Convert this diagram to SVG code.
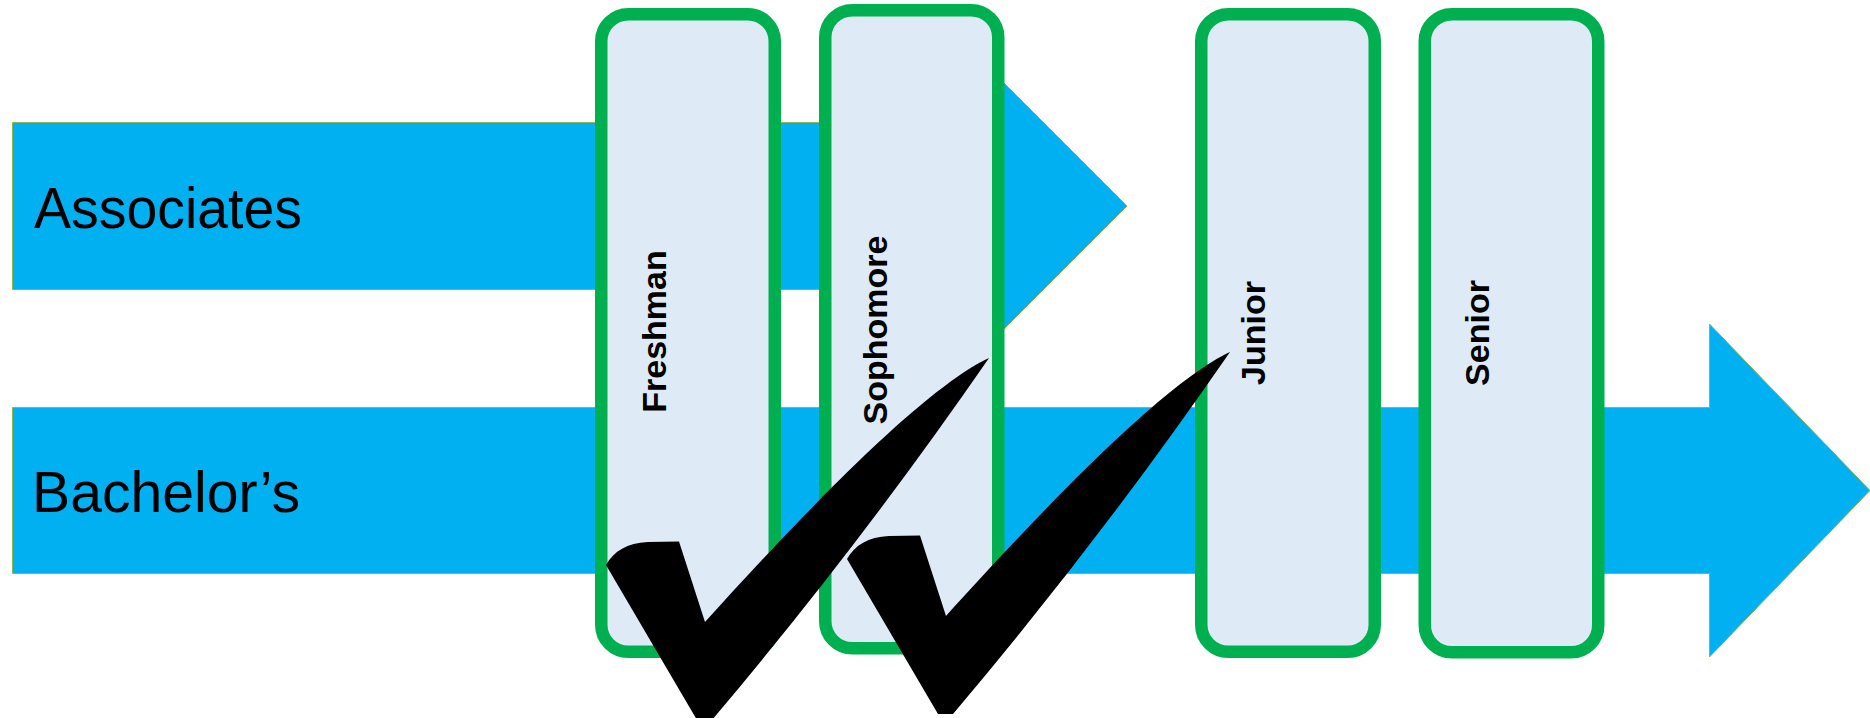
<svg xmlns="http://www.w3.org/2000/svg" width="1870" height="718" viewBox="0 0 1870 718">
  <style>
    .arrow { fill: #00B0F0; stroke: #8CB84E; stroke-width: 1; }
    .box { fill: #DEEAF6; stroke: #00B050; stroke-width: 12.5; }
    .lbl { font-family: "Liberation Sans", Arial, sans-serif; font-size: 58px; fill: #000; }
    .yr { font-family: "Liberation Sans", Arial, sans-serif; font-size: 34px; font-weight: bold; fill: #000; text-anchor: middle; }
    .check { fill: #000; }
  </style>
  <defs>
    <path id="tick" d="M606,565 C614,551 627,543 648,542 L679,541.5 L705,622 C790,528 920,390 989,358 Q860,545 712,720 L697,720 Z"/>
  </defs>
  <rect width="1870" height="718" fill="#FFFFFF"/>

  <g id="associates">
    <path class="arrow" d="M12.5,122.5 H960 V39 L1127,206 L960,373 V289.5 H12.5 Z"/>
    <text class="lbl" x="34" y="228" textLength="268" lengthAdjust="spacingAndGlyphs">Associates</text>
  </g>

  <g id="bachelors">
    <path class="arrow" d="M12.5,407.5 H1709.5 V324 L1870,490.5 L1709.5,657 V573.5 H12.5 Z"/>
    <text class="lbl" x="32" y="512" textLength="268" lengthAdjust="spacingAndGlyphs">Bachelor’s</text>
  </g>

  <g id="connectors"></g>

  <g id="freshman">
    <rect class="box" x="601.25" y="14.25" width="173.5" height="637.5" rx="27"/>
    <text class="yr" transform="translate(666,331.5) rotate(-90)">Freshman</text>
  </g>

  <g id="sophomore">
    <rect class="box" x="825.25" y="10.25" width="173" height="638" rx="27"/>
    <text class="yr" transform="translate(887,330) rotate(-90)">Sophomore</text>
  </g>

  <g id="junior">
    <rect class="box" x="1201.25" y="14.25" width="173.5" height="637.5" rx="27"/>
    <text class="yr" transform="translate(1265,333) rotate(-90)">Junior</text>
  </g>

  <g id="senior">
    <rect class="box" x="1424.75" y="14.25" width="173.5" height="638" rx="27"/>
    <text class="yr" transform="translate(1489,333) rotate(-90)">Senior</text>
  </g>

  <g id="check-1">
    <use href="#tick" class="check"/>
  </g>
  <g id="check-2">
    <use href="#tick" class="check" transform="translate(241,-6)"/>
  </g>
</svg>
